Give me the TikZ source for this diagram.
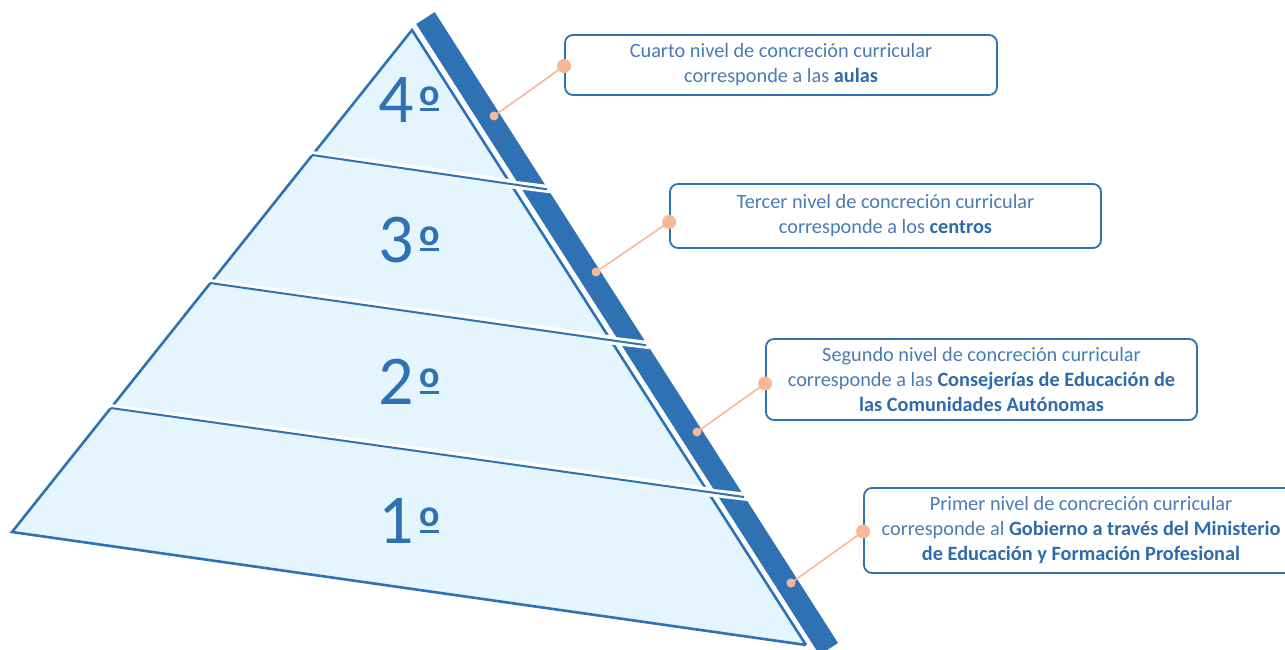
\documentclass[tikz,border=0pt]{standalone}
\usepackage{fontspec}
\setmainfont{Carlito}
\definecolor{pblue}{HTML}{2E72B4}
\definecolor{pfill}{HTML}{E4F5FD}
\definecolor{peach}{HTML}{F6B896}
\definecolor{txt}{HTML}{4A7CB4}
\definecolor{btxt}{HTML}{2F6AAA}
\tikzset{
  infobox/.style={draw=pblue, line width=1.8pt, rounded corners=8pt, fill=white,
    text=txt, align=center, inner sep=0pt,
    font=\fontsize{20.3}{25}\selectfont},
  levelnum/.style={text=pblue, font=\fontsize{70}{70}\selectfont, inner sep=0pt},
  edgeline/.style={draw=pblue, line width=2.6pt, line join=miter},
  gapline/.style={draw=white, line width=4pt},
  bargap/.style={draw=white, line width=8pt},
  divline/.style={draw=pblue, line width=2pt},
  conn/.style={draw=peach, line width=1.6pt},
  bigdot/.style={circle, fill=peach, inner sep=0pt, minimum size=14pt},
  smalldot/.style={circle, fill=peach, inner sep=0pt, minimum size=9pt}
}
\newcommand{\bt}[1]{\textbf{\color{btxt}#1}}
\newcommand{\ordmark}{\kern5pt\makebox[0pt][l]{\kern0.5pt\raisebox{11pt}{\rule{19pt}{3pt}}}\raisebox{17pt}{\fontsize{38}{38}\selectfont\bfseries o}}
\begin{document}
\begin{tikzpicture}[x=1pt,y=-1pt]
\useasboundingbox (0,0) rectangle (1285,650);
\clip (0,0) rectangle (1285,650);
% corners of the pyramid
\coordinate (A) at (412,30);
\coordinate (BL) at (12,532);
\coordinate (BR) at (806,645);
% dividers: left end, right end, end across the bar
\coordinate (d4l) at (312,155);   \coordinate (d4r) at (510.6,184);  \coordinate (d4e) at (547,189.3);
\coordinate (d3l) at (210,283);   \coordinate (d3r) at (610,340);    \coordinate (d3e) at (646,345.2);
\coordinate (d2l) at (110.7,408); \coordinate (d2r) at (707.7,492);  \coordinate (d2e) at (744,497);
% fill
\fill[pfill] (A) -- (BL) -- (BR) -- cycle;
% side bar
\fill[pblue] (416.2,24) -- (434.7,12.1) -- (838,643) -- (819.5,654.9) -- cycle;
% outline
\draw[edgeline] (BR) -- (A) -- (BL) -- (BR);
% white gaps
\foreach \n in {4,3,2}{
  \draw[gapline] ([xshift=-6pt,yshift=2.8pt]d\n l) -- ([yshift=2.8pt]d\n r);
  \draw[bargap] ([xshift=-3pt]d\n r) -- ([xshift=4pt]d\n e);
  \draw[divline] (d\n l) -- (d\n e);
}
% level numbers
\node[levelnum] (n4) at (409,100) {4\ordmark};
\node[levelnum] (n3) at (409,240) {3\ordmark};
\node[levelnum] (n2) at (409,382) {2\ordmark};
\node[levelnum] (n1) at (409,521) {1\ordmark};
% boxes
\node[infobox, minimum width=432pt, minimum height=60pt] (b4) at (781,65)
  {Cuarto nivel de concreción curricular\\corresponde a las \bt{aulas}};
\node[infobox, minimum width=431pt, minimum height=64pt] (b3) at (885.5,216)
  {Tercer nivel de concreción curricular\\corresponde a los \bt{centros}};
\node[infobox, minimum width=431pt, minimum height=81pt] (b2) at (981.5,379.5)
  {Segundo nivel de concreción curricular\\corresponde a las \bt{Consejerías de Educación de}\\\bt{las Comunidades Autónomas}};
\node[infobox, minimum width=434pt, minimum height=85pt] (b1) at (1081,530.5)
  {Primer nivel de concreción curricular\\corresponde al \bt{Gobierno a través del Ministerio}\\\bt{de Educación y Formación Profesional}};
% connector points on the bar
\coordinate (p4) at (494,116);
\coordinate (p3) at (596,272);
\coordinate (p2) at (697,432);
\coordinate (p1) at (791,583);
\coordinate (q4) at ([yshift=-1pt]b4.west);
\coordinate (q3) at ([yshift=-6pt]b3.west);
\coordinate (q2) at ([yshift=-4pt]b2.west);
\coordinate (q1) at ([yshift=-1pt]b1.west);
\foreach \n in {4,3,2,1}{
  \draw[conn] (p\n) -- (q\n);
  \node[smalldot] (s\n) at (p\n) {};
  \node[bigdot] (c\n) at (q\n) {};
}
\end{tikzpicture}
\end{document}
